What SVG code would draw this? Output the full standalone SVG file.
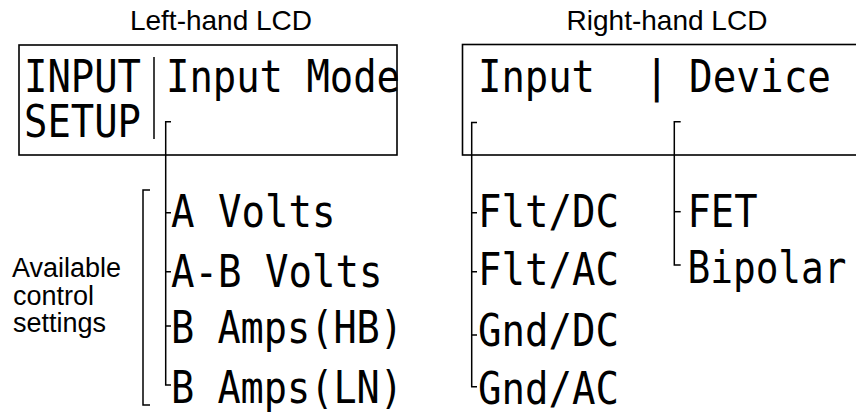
<svg xmlns="http://www.w3.org/2000/svg" width="856" height="419" viewBox="0 0 856 419">
  <style>
    .title { font-family: "Liberation Sans", Arial, sans-serif; font-size: 28px; fill: #000; }
    .label { font-family: "Liberation Sans", Arial, sans-serif; font-size: 27px; fill: #000; }
    .lcd { font-family: "DejaVu Sans Mono", "Liberation Mono", monospace; font-size: 44px; fill: #000; }
    .box { fill: none; stroke: #000; stroke-width: 1.6; }
    .conn { fill: none; stroke: #000; stroke-width: 1.5; }
  </style>
  <rect width="856" height="419" fill="#fff"/>

  <g id="left-lcd">
    <text class="title" x="221" y="30" text-anchor="middle">Left-hand LCD</text>
    <rect class="box" x="19" y="45" width="378" height="110"/>
    <text class="lcd" x="24" y="91.7" textLength="117" lengthAdjust="spacingAndGlyphs">INPUT</text>
    <text class="lcd" x="24" y="136.7" textLength="117" lengthAdjust="spacingAndGlyphs">SETUP</text>
    <line class="conn" x1="154" y1="57" x2="154" y2="139"/>
    <text class="lcd" x="166" y="91.7" textLength="234" lengthAdjust="spacingAndGlyphs">Input Mode</text>
  </g>

  <g id="right-lcd">
    <text class="title" x="667" y="30" text-anchor="middle">Right-hand LCD</text>
    <rect class="box" x="462.5" y="44.5" width="420" height="110.5"/>
    <text class="lcd" x="478" y="91.7" textLength="117" lengthAdjust="spacingAndGlyphs">Input</text>
    <text class="lcd" x="656.7" y="91.7" text-anchor="middle">|</text>
    <text class="lcd" x="689" y="91.7" textLength="142" lengthAdjust="spacingAndGlyphs">Device</text>
  </g>

  <g id="available-label">
    <text class="label" x="12" y="277">Available</text>
    <text class="label" x="13" y="304.5">control</text>
    <text class="label" x="13" y="332">settings</text>
    <path class="conn" d="M150,190 H143 V405 H150"/>
  </g>

  <g id="input-mode-options">
    <text class="lcd" x="171" y="227" textLength="164.5" lengthAdjust="spacingAndGlyphs">A Volts</text>
    <text class="lcd" x="171" y="287" textLength="211.5" lengthAdjust="spacingAndGlyphs">A-B Volts</text>
    <text class="lcd" x="171" y="343" textLength="232" lengthAdjust="spacingAndGlyphs">B Amps(HB)</text>
    <text class="lcd" x="171" y="403" textLength="232" lengthAdjust="spacingAndGlyphs">B Amps(LN)</text>
  </g>

  <g id="input-options">
    <text class="lcd" x="478" y="227" textLength="141" lengthAdjust="spacingAndGlyphs">Flt/DC</text>
    <text class="lcd" x="478" y="285" textLength="141" lengthAdjust="spacingAndGlyphs">Flt/AC</text>
    <text class="lcd" x="478" y="346" textLength="141" lengthAdjust="spacingAndGlyphs">Gnd/DC</text>
    <text class="lcd" x="478" y="404" textLength="141" lengthAdjust="spacingAndGlyphs">Gnd/AC</text>
  </g>

  <g id="device-options">
    <text class="lcd" x="687.5" y="227" textLength="70" lengthAdjust="spacingAndGlyphs">FET</text>
    <text class="lcd" x="687.5" y="283" textLength="159" lengthAdjust="spacingAndGlyphs">Bipolar</text>
  </g>

  <g id="connectors">
    <path class="conn" d="M171,121.7 H165.7 V385 H171"/>
    <path class="conn" d="M165.7,212.7 H171 M165.7,271.7 H171 M165.7,326 H171"/>
    <path class="conn" d="M477,122.5 H471.7 V386.7 H477"/>
    <path class="conn" d="M471.7,212.7 H477 M471.7,271.7 H477 M471.7,335 H477"/>
    <path class="conn" d="M680.7,121.7 H674.3 V265 H680.7"/>
    <path class="conn" d="M674.3,211.7 H680.7"/>
  </g>
</svg>
